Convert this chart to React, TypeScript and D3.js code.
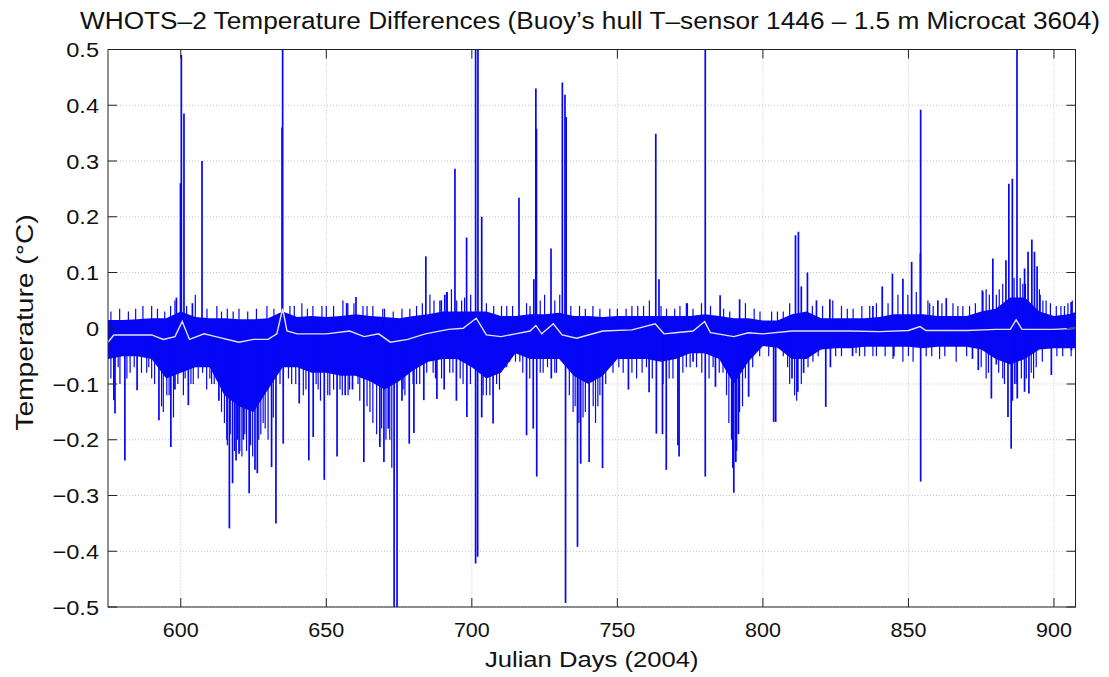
import React, { useEffect, useRef } from 'react';
import * as d3 from 'd3';

const W = 1109;
const H = 677;
const plot = { left: 108, right: 1075.5, top: 49.5, bottom: 607 };

// dense part of the record: upper / lower envelope read every 5 days
const envDays = [575, 580, 585, 590, 595, 600, 605, 610, 615, 620, 625, 630, 635, 640, 645, 650, 655, 660, 665, 670,
  675, 680, 685, 690, 695, 700, 705, 710, 715, 720, 725, 730, 735, 740, 745, 750, 755, 760, 765, 770,
  775, 780, 785, 790, 795, 800, 805, 810, 815, 820, 825, 830, 835, 840, 845, 850, 855, 860, 865, 870,
  875, 880, 885, 890, 895, 900, 905, 908];
const envUpper = [0.015, 0.015, 0.016, 0.018, 0.018, 0.03, 0.02, 0.018, 0.018, 0.016, 0.016, 0.018, 0.03, 0.02, 0.022, 0.02, 0.022, 0.025, 0.022, 0.02,
  0.018, 0.022, 0.025, 0.03, 0.03, 0.03, 0.03, 0.022, 0.022, 0.025, 0.025, 0.028, 0.022, 0.022, 0.02, 0.022, 0.022, 0.022, 0.022, 0.022,
  0.022, 0.025, 0.022, 0.018, 0.018, 0.014, 0.014, 0.025, 0.03, 0.018, 0.018, 0.018, 0.018, 0.02, 0.025, 0.025, 0.025, 0.022, 0.022, 0.022,
  0.03, 0.035, 0.055, 0.055, 0.03, 0.022, 0.025, 0.03];
const envLower = [-0.055, -0.05, -0.05, -0.055, -0.09, -0.08, -0.07, -0.07, -0.12, -0.14, -0.15, -0.11, -0.07, -0.07, -0.08, -0.08, -0.085, -0.085, -0.095, -0.11,
  -0.095, -0.075, -0.06, -0.055, -0.055, -0.07, -0.09, -0.08, -0.045, -0.055, -0.055, -0.055, -0.085, -0.1, -0.085, -0.055, -0.055, -0.055, -0.06, -0.055,
  -0.045, -0.045, -0.055, -0.1, -0.06, -0.032, -0.035, -0.055, -0.055, -0.038, -0.036, -0.036, -0.033, -0.033, -0.033, -0.033, -0.036, -0.033, -0.033, -0.033,
  -0.038, -0.055, -0.065, -0.055, -0.038, -0.036, -0.036, -0.036];

// running mean (the white line)
const meanDays = [575, 577, 590, 594, 598, 600.5, 603, 608, 612, 620, 625, 630, 633, 635, 636.5, 640, 650, 658, 663, 668,
  672, 678, 684, 692, 697, 701.5, 705, 710, 715, 720, 722, 724, 728, 731, 736, 745, 755, 763, 766, 770,
  776, 780, 782, 790, 795, 800, 810, 820, 830, 840, 850, 854, 856, 870, 880, 885, 887, 889, 900, 908];
const meanValues = [-0.025, -0.012, -0.012, -0.02, -0.015, 0.012, -0.02, -0.01, -0.015, -0.025, -0.02, -0.02, -0.01, 0.035, -0.005, -0.01, -0.01, -0.005, -0.015, -0.01,
  -0.025, -0.02, -0.01, -0.002, 0.0, 0.018, -0.012, -0.015, -0.01, -0.005, 0.005, -0.01, 0.008, -0.012, -0.018, -0.005, -0.003, 0.008, -0.01, -0.008,
  -0.005, 0.012, -0.008, -0.015, -0.008, -0.01, -0.005, -0.005, -0.005, -0.006, -0.004, 0.003, -0.004, -0.004, -0.002, -0.002, 0.015, -0.002, -0.002, 0.0];

// isolated positive spikes
const upSpikeDays = [598.5, 599.9, 600.2, 601.1, 604, 607.3, 634.8, 635, 657, 660.2, 684.2, 689.5, 690.7, 691.5, 694.2, 698.2, 701.3, 702.1, 703.4, 716.2,
  721.3, 722, 722.2, 727.2, 731.1, 732, 732.4, 763.2, 764.3, 774, 780.2, 785.3, 792, 811.2, 812.2, 813.2, 815.3, 818.4, 823, 837.8,
  841, 844.5, 848.1, 851.1, 854.1, 854.2, 860.1, 863, 875.4, 879, 883.5, 884.5, 885.7, 887.3, 889.9, 891.1, 892.4, 893.3, 894.2, 895.2, 905.9];
const upSpikeValues = [0.055, 0.26, 0.49, 0.385, 0.045, 0.3, 0.36, 0.52, 0.045, 0.056, 0.129, 0.05, 0.06, 0.065, 0.286, 0.163, 0.52, 0.52, 0.2, 0.234,
  0.088, 0.43, 0.358, 0.143, 0.441, 0.419, 0.379, 0.349, 0.088, 0.045, 0.52, 0.059, 0.052, 0.167, 0.173, 0.075, 0.1, 0.05, 0.052, 0.04,
  0.075, 0.098, 0.089, 0.119, 0.134, 0.392, 0.05, 0.054, 0.068, 0.125, 0.122, 0.259, 0.268, 0.52, 0.107, 0.137, 0.159, 0.137, 0.111, 0.06, 0.047];

// isolated negative spikes
const downSpikeDays = [577, 577.4, 580.8, 585, 592.5, 596.6, 598, 602.6, 613.1, 616.7, 617.8, 619, 620, 621.5, 623.5, 625.5, 626.3, 631.2, 632.7, 635.2,
  640.7, 644, 645.5, 649.3, 653.7, 656.5, 659, 662.9, 668.4, 669.8, 671.3, 673.3, 674.3, 676, 678.5, 680.1, 683.5, 688, 690.5, 694.7,
  698.3, 701.3, 702, 703.4, 707.3, 711.3, 718.8, 721.1, 722.3, 727.3, 732.2, 736.3, 737.4, 740.3, 744.9, 753.8, 760.9, 763.4, 765.5, 766.8,
  770.8, 771.2, 776, 780.2, 783.7, 790, 790.7, 791.6, 795.1, 803.7, 804.4, 810, 812, 814, 821.6, 823.2, 830.8, 845, 854.2, 872,
  874, 878.5, 880.2, 884.2, 885.3, 887.4, 889.9, 891.4, 899.1, 906];
const downSpikeValues = [-0.129, -0.153, -0.237, -0.111, -0.165, -0.213, -0.11, -0.138, -0.13, -0.359, -0.278, -0.237, -0.225, -0.2, -0.296, -0.254, -0.26, -0.249, -0.35, -0.207,
  -0.135, -0.237, -0.195, -0.272, -0.23, -0.12, -0.11, -0.24, -0.213, -0.24, -0.18, -0.52, -0.52, -0.13, -0.207, -0.188, -0.129, -0.127, -0.11, -0.13,
  -0.159, -0.422, -0.41, -0.16, -0.171, -0.07, -0.192, -0.18, -0.266, -0.09, -0.493, -0.392, -0.243, -0.24, -0.251, -0.11, -0.115, -0.189, -0.19, -0.254,
  -0.21, -0.23, -0.06, -0.266, -0.105, -0.295, -0.24, -0.19, -0.123, -0.168, -0.168, -0.09, -0.114, -0.08, -0.141, -0.07, -0.05, -0.05, -0.275, -0.055,
  -0.075, -0.126, -0.065, -0.159, -0.216, -0.126, -0.114, -0.117, -0.084, -0.04];

// smaller excursions that roughen the edges of the dense band
const smallUpDays = [587, 590, 598, 602, 605, 612.4, 616, 620, 629.6, 641.6, 645.4, 650, 655.7, 657.4, 662.6, 666, 669.4, 670, 678.7, 685.6,
  689, 691.3, 693, 696.5, 699.6, 705, 710.2, 714, 718.8, 725, 730.2, 737, 741.6, 747.4, 753, 757, 761, 766.9, 769.7, 773.7,
  778.9, 788.6, 794, 799, 807, 809.2, 824, 827, 831, 836.7, 839, 846.4, 849.8, 852.7, 856.7, 857.3, 865.3, 868.7, 875.6, 876.7,
  880.2, 882.4, 889.3, 895, 897.3, 900.8, 903.6, 906.3,
  576, 579, 582, 584.5, 592, 594.5, 596.5, 609, 614, 618, 623, 626, 632, 637.5, 639, 643.5, 648.5, 652.5, 659.5, 664,
  673, 676, 681, 683, 687, 694.8, 697.5, 707.5, 712, 720, 723.5, 728.5, 734, 739, 744, 750, 755, 759, 765, 771.5,
  776, 782, 786.5, 797, 803, 805, 817, 820.5, 829, 834, 843, 858.5, 861.5, 867, 871, 873, 877.8, 881.2, 886.3, 888.4,
  890.2, 896.2, 898.8, 902.4, 904.8];
const smallUpValues = [0.04, 0.04, 0.05, 0.04, 0.06, 0.04, 0.035, 0.035, 0.04, 0.045, 0.04, 0.04, 0.05, 0.045, 0.04, 0.04, 0.035, 0.035, 0.035, 0.06,
  0.05, 0.065, 0.07, 0.05, 0.06, 0.045, 0.04, 0.04, 0.045, 0.06, 0.06, 0.04, 0.04, 0.035, 0.035, 0.04, 0.05, 0.035, 0.035, 0.045,
  0.045, 0.03, 0.045, 0.03, 0.03, 0.045, 0.05, 0.04, 0.035, 0.04, 0.045, 0.06, 0.06, 0.065, 0.05, 0.045, 0.045, 0.04, 0.065, 0.07,
  0.06, 0.08, 0.08, 0.07, 0.05, 0.04, 0.04, 0.05,
  0.03, 0.035, 0.03, 0.035, 0.035, 0.03, 0.04, 0.035, 0.03, 0.03, 0.03, 0.035, 0.035, 0.04, 0.04, 0.035, 0.04, 0.04, 0.045, 0.04,
  0.03, 0.035, 0.04, 0.045, 0.05, 0.05, 0.055, 0.04, 0.04, 0.04, 0.05, 0.05, 0.04, 0.035, 0.035, 0.035, 0.04, 0.04, 0.04, 0.04,
  0.035, 0.04, 0.035, 0.035, 0.03, 0.03, 0.04, 0.04, 0.035, 0.04, 0.045, 0.04, 0.045, 0.04, 0.04, 0.045, 0.06, 0.07, 0.09, 0.09,
  0.08, 0.05, 0.045, 0.04, 0.045];
const smallDownDays = [579.1, 582.6, 588.3, 590, 593.4, 595.2, 600.9, 604.3, 608.9, 610.6, 615.8, 620.3, 622.6, 628.3, 634.1, 638.1, 642.1, 647.2, 651.2, 654.7,
  657.5, 660.9, 665, 667.3, 671.8, 676.4, 679.8, 682.1, 686.7, 689.6, 692.4, 697, 703.9, 706.2, 708.5, 713, 716.5, 719.9, 724.5, 729.1,
  734.8, 738.2, 741.7, 744, 748.5, 752, 756.6, 760, 765.7, 769.1, 773.7, 777.2, 782.9, 786.3, 789.2, 792, 798.9, 809.2, 810.9, 813.2,
  817.2, 827, 832, 833.2, 837.8, 839, 844.7, 848.1, 851.6, 856.1, 860.7, 866.4, 875, 876.7, 882.4, 886.5, 888.8, 892.2, 893.9, 903, 905.9,
  576, 578.5, 581.5, 584, 586.5, 589, 591, 594, 596, 597.5, 599, 601.5, 603.5, 606, 607.5, 610, 611.5, 614, 615, 616,
  617, 618.5, 619.5, 621, 622, 624, 624.7, 626.8, 627.5, 629, 630, 631.8, 637, 639.5, 643, 646.5, 648, 650.5, 652.5, 655.5,
  658, 661.5, 664, 666, 669, 670.5, 672.5, 677, 681, 684.5, 687.5, 693.5, 696, 699.5, 705, 709.5, 712, 715, 717.5, 723.5,
  726, 728.5, 733.5, 735.5, 736.8, 739, 742.5, 743.3, 746, 750.5, 755, 758.5, 762, 767.8, 772.5, 775, 779, 781.5, 785, 787.5,
  788.3, 789.6, 791, 793, 794, 796.5, 802, 807, 808.5, 811.6, 815.5, 819, 825, 835, 842, 850, 858, 862.5, 870, 877.5,
  881, 883, 885.8, 887, 890.5, 893, 896, 901];
const smallDownValues = [-0.1, -0.08, -0.08, -0.09, -0.14, -0.12, -0.12, -0.1, -0.11, -0.1, -0.2, -0.22, -0.22, -0.17, -0.1, -0.1, -0.12, -0.11, -0.12, -0.11,
  -0.12, -0.1, -0.15, -0.19, -0.2, -0.11, -0.1, -0.1, -0.08, -0.09, -0.08, -0.1, -0.12, -0.12, -0.1, -0.06, -0.06, -0.09, -0.08, -0.08,
  -0.15, -0.16, -0.14, -0.12, -0.08, -0.08, -0.09, -0.07, -0.1, -0.09, -0.07, -0.07, -0.07, -0.08, -0.2, -0.15, -0.05, -0.1, -0.12, -0.1,
  -0.06, -0.05, -0.045, -0.05, -0.05, -0.05, -0.055, -0.06, -0.06, -0.05, -0.055, -0.06, -0.07, -0.09, -0.09, -0.1, -0.09, -0.08, -0.07, -0.05, -0.05,
  -0.09, -0.07, -0.09, -0.07, -0.08, -0.07, -0.1, -0.15, -0.12, -0.16, -0.1, -0.09, -0.1, -0.09, -0.08, -0.09, -0.1, -0.15, -0.17, -0.21,
  -0.19, -0.22, -0.2, -0.23, -0.19, -0.21, -0.23, -0.2, -0.19, -0.18, -0.2, -0.16, -0.09, -0.1, -0.11, -0.1, -0.13, -0.12, -0.11, -0.12,
  -0.11, -0.13, -0.14, -0.17, -0.18, -0.2, -0.25, -0.12, -0.1, -0.08, -0.09, -0.08, -0.09, -0.1, -0.12, -0.11, -0.07, -0.06, -0.08, -0.08,
  -0.07, -0.08, -0.12, -0.14, -0.17, -0.15, -0.17, -0.14, -0.1, -0.07, -0.08, -0.08, -0.09, -0.09, -0.08, -0.07, -0.08, -0.09, -0.08, -0.12,
  -0.17, -0.25, -0.22, -0.14, -0.09, -0.07, -0.05, -0.05, -0.07, -0.13, -0.07, -0.05, -0.05, -0.05, -0.05, -0.05, -0.05, -0.05, -0.05, -0.08,
  -0.08, -0.1, -0.13, -0.1, -0.09, -0.09, -0.06, -0.05];

const xTicks = [600, 650, 700, 750, 800, 850, 900];
const yTicks = [-0.5, -0.4, -0.3, -0.2, -0.1, 0, 0.1, 0.2, 0.3, 0.4, 0.5];

const BLUE = '#0606f5';
const FONT = 'Liberation Sans, Arial, Helvetica, sans-serif';

const App = () => {
  const ref = useRef<SVGSVGElement>(null);

  useEffect(() => {
    const svg = d3.select(ref.current);
    svg.selectAll('*').remove();

    const x = d3.scaleLinear().domain([575, 907.4]).range([plot.left, plot.right]);
    const y = d3.scaleLinear().domain([-0.5, 0.5]).range([plot.bottom, plot.top]);

    svg.append('rect').attr('width', W).attr('height', H).attr('fill', '#fff');

    svg.append('defs').append('clipPath').attr('id', 'plotClip')
      .append('rect')
      .attr('x', plot.left).attr('y', plot.top)
      .attr('width', plot.right - plot.left).attr('height', plot.bottom - plot.top);

    // dotted grid
    const grid = svg.append('g').attr('stroke', '#c4c4c4').attr('stroke-width', 1).attr('stroke-dasharray', '1,2');
    grid.selectAll('line.gx').data(xTicks).join('line').attr('class', 'gx')
      .attr('x1', d => x(d)).attr('x2', d => x(d)).attr('y1', plot.top).attr('y2', plot.bottom);
    grid.selectAll('line.gy').data(yTicks).join('line').attr('class', 'gy')
      .attr('x1', plot.left).attr('x2', plot.right).attr('y1', d => y(d)).attr('y2', d => y(d));

    const g = svg.append('g').attr('clip-path', 'url(#plotClip)');

    // the dense band
    const band = d3.area<number>()
      .x((d, i) => x(envDays[i]))
      .y0((d, i) => y(envLower[i]))
      .y1(d => y(d));
    g.append('path').datum(envUpper).attr('d', band).attr('fill', BLUE);

    // small excursions (thin)
    const small = [
      ...smallUpDays.map((d, i) => [d, smallUpValues[i]]),
      ...smallDownDays.map((d, i) => [d, smallDownValues[i]]),
    ];
    g.selectAll('line.small').data(small).join('line').attr('class', 'small')
      .attr('x1', d => x(d[0])).attr('x2', d => x(d[0]))
      .attr('y1', y(0)).attr('y2', d => y(d[1]))
      .attr('stroke', BLUE).attr('stroke-width', 1.2);

    // spikes
    const spikes = [
      ...upSpikeDays.map((d, i) => [d, upSpikeValues[i]]),
      ...downSpikeDays.map((d, i) => [d, downSpikeValues[i]]),
    ];
    g.selectAll('line.spike').data(spikes).join('line').attr('class', 'spike')
      .attr('x1', d => x(d[0])).attr('x2', d => x(d[0]))
      .attr('y1', y(0)).attr('y2', d => y(d[1]))
      .attr('stroke', BLUE).attr('stroke-width', 1.7);

    // running mean
    const meanLine = d3.line<number>()
      .x((d, i) => x(meanDays[i]))
      .y(d => y(d));
    g.append('path').datum(meanValues).attr('d', meanLine)
      .attr('fill', 'none').attr('stroke', '#e4e4ee').attr('stroke-width', 1.4);

    // frame + inward ticks on all four sides
    const frame = svg.append('g').attr('stroke', '#222').attr('stroke-width', 1);
    frame.append('rect')
      .attr('x', plot.left).attr('y', plot.top)
      .attr('width', plot.right - plot.left).attr('height', plot.bottom - plot.top)
      .attr('fill', 'none');
    const tl = 9;
    frame.selectAll('line.xtb').data(xTicks).join('line').attr('class', 'xtb')
      .attr('x1', d => x(d)).attr('x2', d => x(d)).attr('y1', plot.bottom).attr('y2', plot.bottom - tl);
    frame.selectAll('line.xtt').data(xTicks).join('line').attr('class', 'xtt')
      .attr('x1', d => x(d)).attr('x2', d => x(d)).attr('y1', plot.top).attr('y2', plot.top + tl);
    frame.selectAll('line.ytl').data(yTicks).join('line').attr('class', 'ytl')
      .attr('x1', plot.left).attr('x2', plot.left + tl).attr('y1', d => y(d)).attr('y2', d => y(d));
    frame.selectAll('line.ytr').data(yTicks).join('line').attr('class', 'ytr')
      .attr('x1', plot.right).attr('x2', plot.right - tl).attr('y1', d => y(d)).attr('y2', d => y(d));

    const fmt = (d: number) => (d < 0 ? '\u2212' : '') + (d === 0 ? '0' : d3.format('.1f')(Math.abs(d)));

    const labels = svg.append('g').attr('font-family', FONT).attr('fill', '#111');
    labels.selectAll('text.xl').data(xTicks).join('text').attr('class', 'xl')
      .attr('transform', d => `translate(${x(d)}, 637) scale(1.05, 1)`)
      .attr('text-anchor', 'middle').attr('font-size', 20.5)
      .text(d => String(d));
    labels.selectAll('text.yl').data(yTicks).join('text').attr('class', 'yl')
      .attr('transform', d => `translate(99, ${y(d) + 7.5}) scale(1.15, 1)`)
      .attr('text-anchor', 'end').attr('font-size', 20.5)
      .text(d => fmt(d));

    labels.append('text')
      .attr('transform', `translate(${(plot.left + plot.right) / 2}, 667) scale(1.14, 1)`)
      .attr('text-anchor', 'middle').attr('font-size', 22.5)
      .text('Julian Days (2004)');

    labels.append('text')
      .attr('transform', `translate(33, 322.5) rotate(-90) scale(1.2, 1)`)
      .attr('text-anchor', 'middle').attr('font-size', 23.5)
      .text('Temperature (\u00B0C)');

    labels.append('text')
      .attr('x', 80).attr('y', 28.5)
      .attr('textLength', 1020).attr('lengthAdjust', 'spacingAndGlyphs')
      .attr('font-size', 23)
      .text('WHOTS\u20132 Temperature Differences (Buoy\u2019s hull T\u2013sensor 1446 \u2013 1.5 m Microcat 3604)');
  }, []);

  return (
    <svg ref={ref} width={W} height={H}
      style={{ position: 'absolute', left: 0, top: 0, display: 'block', background: '#fff' }} />
  );
};

export default App;
